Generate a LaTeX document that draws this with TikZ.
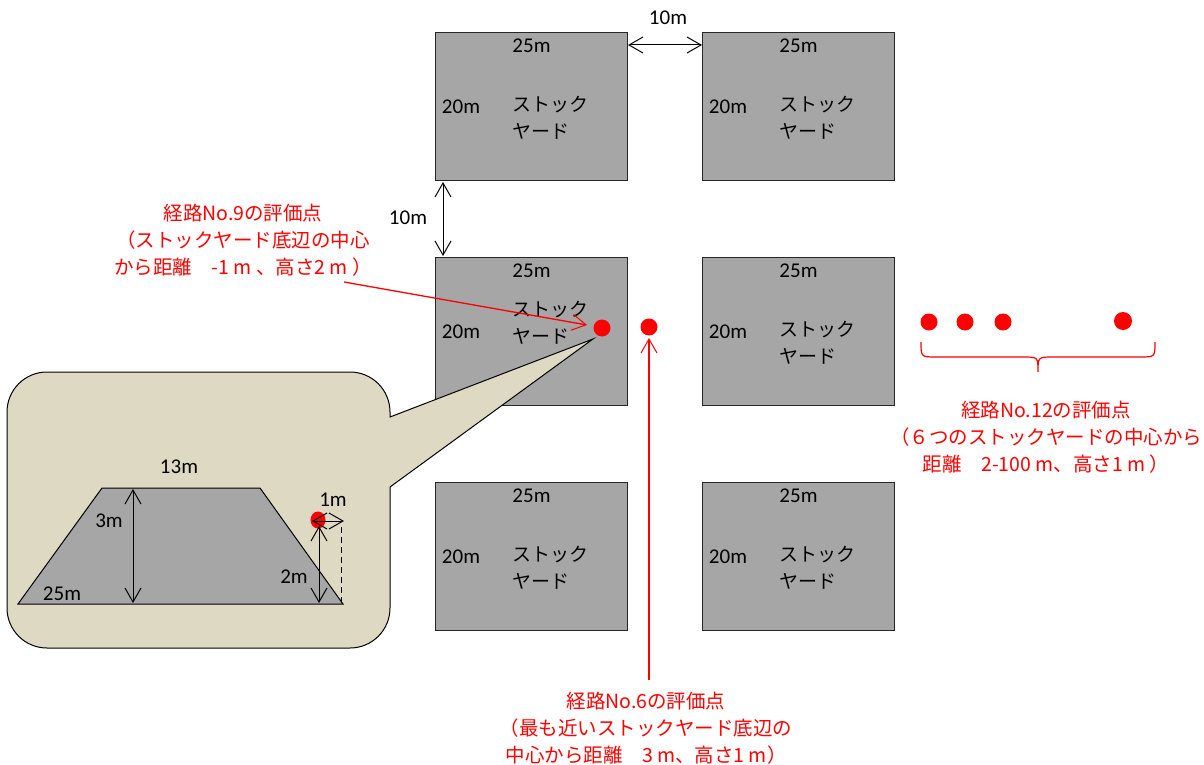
\documentclass[tikz,border=0pt]{standalone}
\usepackage{fontspec}
\setmainfont{Carlito}
\newfontfamily\cjk{Noto Sans CJK JP}
\usetikzlibrary{arrows.meta,shapes.geometric}
\definecolor{yardgray}{HTML}{A6A6A6}
\definecolor{callbg}{HTML}{DDD9C3}
\definecolor{redc}{HTML}{FF0000}
\newcommand\yardset[4]{%
  \node[yardbox] (#1) at (#2,#3) {};
  \node[lbl] (#1w) at ([shift={(0,14)}]#1.north) {25m};
  \node[lbl] (#1h) at ([shift={(26,75)}]#1.north west) {20m};
  \node[kata] (#1a) at ([shift={(77,#4)}]#1.north west) {ストック};
  \node[kata] (#1b) at ([shift={(77,#4+26)}]#1.north west) {ヤード};
}
\begin{document}
\begin{tikzpicture}[x=1pt,y=-1pt,
  yardbox/.style={draw=black!85, line width=1pt, fill=yardgray, minimum width=192pt, minimum height=148pt, inner sep=0pt, anchor=north west},
  lbl/.style={font=\fontsize{21}{24}\selectfont, inner sep=0pt},
  kata/.style={font=\cjk\fontsize{19}{22}\selectfont, inner sep=0pt, anchor=west},
  barb/.tip={Straight Barb[length=14pt,width=16pt,line width=1pt]},
  dim/.style={line width=1pt, barb-barb},
  redtxt/.style={font=\cjk\fontsize{19.5}{27}\selectfont, text=redc, align=center, inner sep=0pt},
  redarrow/.style={draw=redc, line width=1.3pt, -barb},
  reddot/.style={fill=redc, circle, inner sep=0pt, minimum size=17pt},
]
\useasboundingbox (0,0) rectangle (1204,765);

% stock yards
\yardset{tl}{435}{32}{73}
\yardset{tr}{702}{32}{73}
\yardset{ml}{435}{257}{53}
\yardset{mr}{702}{257}{73}
\yardset{bl}{435}{482}{73}
\yardset{br}{702}{482}{73}

% 10m gaps
\coordinate (h1) at (628,45);
\coordinate (h2) at (702,45);
\draw[dim] (h1) -- (h2);
\node[lbl] (h10) at (668,18) {10m};
\coordinate (v1) at (443,182);
\coordinate (v2) at (443,256);
\draw[dim] (v1) -- (v2);
\node[lbl] (v10) at (408,218) {10m};

% callout
\draw[fill=callbg, line width=1pt, line join=miter]
  (47,372) -- (350,372) .. controls (372.1,372) and (390,389.9) .. (390,412)
  -- (390,417) -- (593,339) -- (390,487) -- (390,608)
  .. controls (390,630.1) and (372.1,648) .. (350,648) -- (47,648)
  .. controls (24.9,648) and (7,630.1) .. (7,608) -- (7,412)
  .. controls (7,389.9) and (24.9,372) .. (47,372) -- cycle;

% trapezoid
\draw[fill=yardgray, line width=1pt] (18,604) -- (102,488) -- (260,488) -- (343,604) -- cycle;
\node[lbl] (t13) at (179,467) {13m};
\node[lbl] (t3) at (109,521) {3m};
\node[lbl] (t25) at (62,594) {25m};
\node[lbl] (t2) at (294,577) {2m};
\node[lbl] (t1) at (333,500) {1m};
\node[fill=redc, ellipse, inner sep=0pt, minimum width=15pt, minimum height=17pt] (pdot) at (318,520) {};
\coordinate (a3t) at (133,489);
\coordinate (a3b) at (133,603);
\draw[dim] (a3t) -- (a3b);
\coordinate (a2t) at (319,526);
\coordinate (a2b) at (319,603);
\draw[dim] (a2t) -- (a2b);
\coordinate (a1l) at (312,521);
\coordinate (a1r) at (344,521);
\draw[dim] (a1l) -- (a1r);
\coordinate (dsh1) at (341,527);
\coordinate (dsh2) at (341,604);
\draw[line width=1pt, dash pattern=on 6pt off 4pt] (dsh1) -- (dsh2);

% red evaluation points
\node[reddot] (d9) at (602,328) {};
\node[reddot] (d6) at (649,327) {};
\node[reddot] (d12a) at (929,322) {};
\node[reddot] (d12b) at (965,322) {};
\node[reddot] (d12c) at (1003,322) {};
\node[reddot, minimum size=18pt] (d12d) at (1123,321) {};

% brace
\draw[redc, line width=1.2pt] (921,342) .. controls (921,357) .. (936,357) -- (1023,357)
  .. controls (1038,357) .. (1038,372) .. controls (1038,357) .. (1053,357) -- (1140,357)
  .. controls (1155,357) .. (1155,342);

% texts
\node[redtxt] (n9) at (243,240) {経路No.9の評価点\\（ストックヤード底辺の中心\\から距離　-1 m 、高さ2 m ）};
\node[redtxt] (n12) at (1046,437) {経路No.12の評価点\\（６つのストックヤードの中心から\\距離　2-100 m、高さ1 m ）};
\node[redtxt] (n6) at (646,728) {経路No.6の評価点\\（最も近いストックヤード底辺の\\中心から距離　3 m、高さ1 m）};

% red arrows
\coordinate (r9s) at (344,282);
\coordinate (r9e) at (587,325);
\draw[redarrow] (r9s) -- (r9e);
\coordinate (r6s) at (649,680);
\coordinate (r6e) at (649,338);
\draw[redarrow] (r6s) -- (r6e);
\end{tikzpicture}
\end{document}
